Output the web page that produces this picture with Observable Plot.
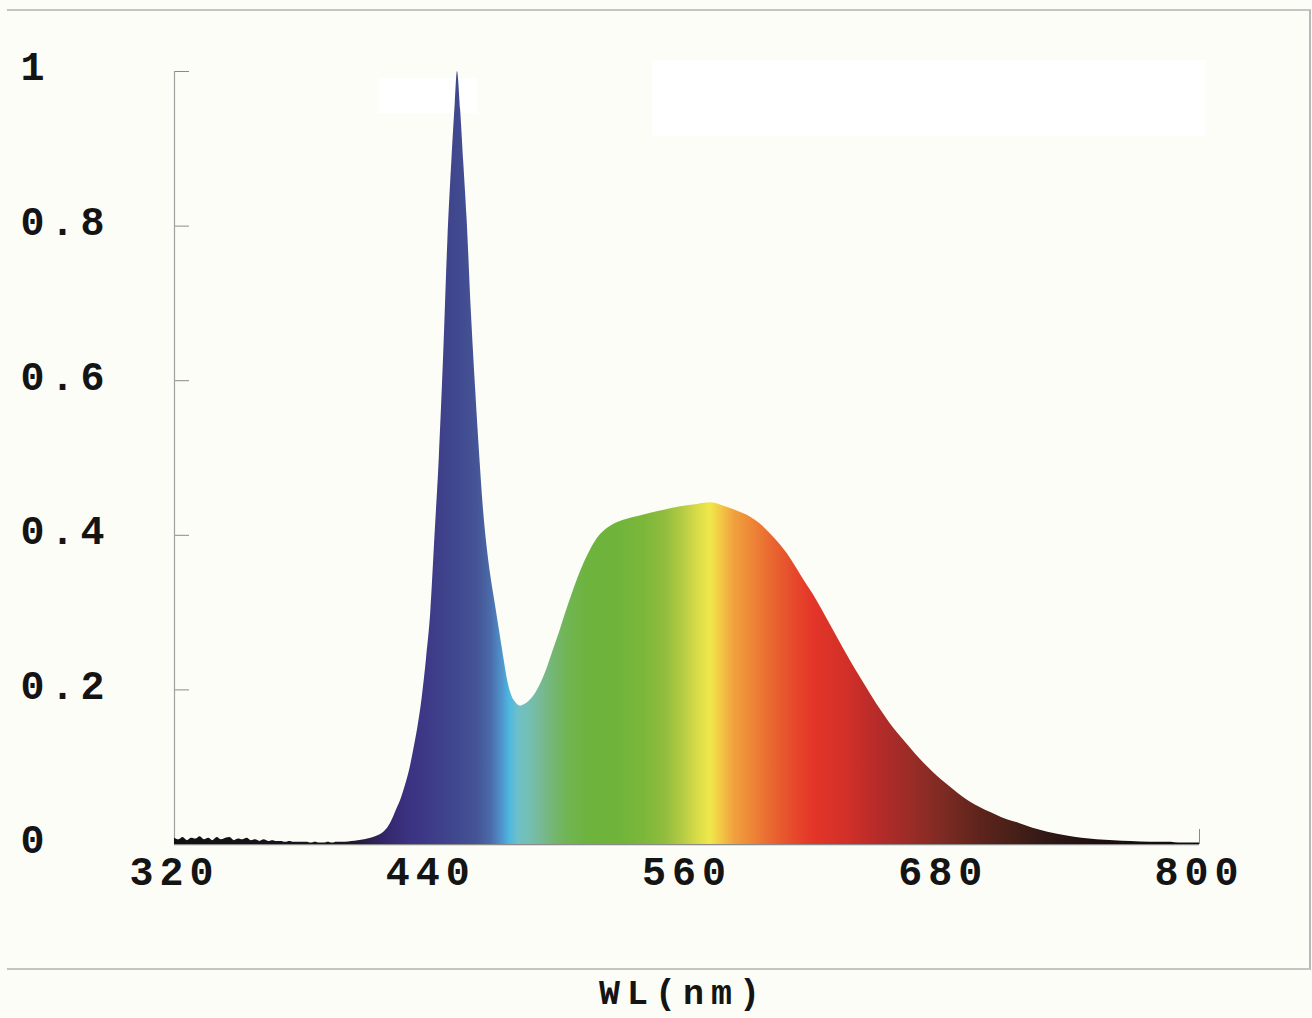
<!DOCTYPE html>
<html>
<head>
<meta charset="utf-8">
<script src="https://cdn.jsdelivr.net/npm/d3@7"></script>
<script src="https://cdn.jsdelivr.net/npm/@observablehq/plot@0.6"></script>
<style>
  html, body { margin: 0; padding: 0; background: #fdfdf7; }
  #wrap { position: relative; width: 1312px; height: 1018px; overflow: hidden; }
  #frame { position: absolute; left: 7px; top: 9px; width: 1302px; height: 957px;
           border-top: 2px solid #c4c4c4; border-right: 2px solid #b8b8b8; border-bottom: 2px solid #c4c4c4; }
  .blank { position: absolute; background: #ffffff; }
  #chart { position: absolute; left: 0; top: 0; }
  #chart svg { background: transparent !important; }
  #chart svg text { font-family: "Liberation Mono", "DejaVu Sans Mono", monospace; font-weight: bold; }
</style>
</head>
<body>
<div id="wrap">
  <div id="frame"></div>
  <div class="blank" style="left:378px;top:78px;width:99px;height:35px"></div>
  <div class="blank" style="left:652px;top:60px;width:554px;height:76px"></div>
  <div id="chart"></div>
</div>
<script>
// ---- data ----
const wavelengths = [
  320,322,324,326,328,330,332,334,336,338,340,342,344,346,348,350,352,354,356,358,
  360,362,364,366,368,370,372,374,376,378,380,382,384,386,388,390,392,394,396,398,400,
  403,406,409,412,415,418,420,422,424,426,428,430,432,434,436,438,440,442,444,446,448,450,451.5,452.5,
  454,455.5,457,459,461,463,464.5,466,468,470,472,474,476,478,480,482,484,
  486,488,491,494,497,500,503,506,509,512,515,518,521,525,530,538,547,557,565,571,576,582,590,595,599,
  603,607,611,615,619,623,627,631,635,639,643,647,651,655,659,663,667,671,675,679,683,687,691,695,
  700,705,710,716,722,729,738,745,752,760,768,777,785,792,800
];
const intensities = [
  .008,.006,.009,.005,.008,.007,.010,.006,.008,.005,.009,.006,.008,.009,.005,.007,.006,.008,.005,.006,
  .004,.006,.004,.005,.004,.004,.003,.004,.003,.003,.003,.003,.002,.003,.002,.002,.003,.002,.003,.003,.003,
  .004,.005,.006,.008,.011,.016,.022,.032,.045,.058,.075,.095,.122,.152,.19,.24,.30,.40,.50,.63,.78,.89,.96,1.0,
  .95,.88,.81,.69,.59,.50,.44,.395,.35,.315,.28,.245,.212,.192,.183,.179,.181,
  .185,.191,.205,.224,.248,.272,.298,.322,.345,.365,.382,.396,.405,.413,.419,.425,.431,.437,.440,.442,.439,.433,.423,.413,.402,
  .39,.376,.359,.341,.324,.305,.285,.265,.245,.226,.208,.19,.173,.157,.143,.13,.117,.105,.094,.084,.075,.066,.058,.051,
  .044,.038,.032,.027,.021,.016,.011,.008,.006,.005,.004,.003,.003,.002,.002
];
const stopWavelengths = [320,400,410,420,430,440,452,462,468,473,477,481,486,492,498,505,515,528,540,550,558,565,571,576,582,590,600,610,619,635,650,666,682,697,713,729,752,800];
const stopColors = ["#111111","#1c1420","#2a1e48","#35286e","#3b3282","#3e3b88","#40488e","#455596","#4a6aa8","#5090c8","#4db8e0","#6ebfc8","#74bfb4","#78b994","#74b670","#70b550","#6db33c","#70b43a","#7cb73a","#92bd3e","#b4cb44","#d8dc48","#f0e84a","#f3c845","#f0a23e","#ee8838","#e96630","#e64a2c","#e43529","#d23028","#b52b2a","#982c26","#7a2a22","#5e241c","#482018","#301816","#1e1010","#120a0a"];
const xTicks = [320, 440, 560, 680, 800];
const yTicks = [0, 0.2, 0.4, 0.6, 0.8, 1];
const yTickLabels = ["0", "0.2", "0.4", "0.6", "0.8", "1"];
const xLabel = "WL(nm)";

const spectrum = wavelengths.map((wl, i) => ({wl, v: intensities[i]}));

// ---- layout ----
const W = 1312, H = 1018;
const mL = 174, mR = 113, mT = 71, mB = 174;
const plotW = W - mL - mR, plotH = H - mT - mB;

function gradientMark(index, scales, values, dims) {
  const ns = "http://www.w3.org/2000/svg";
  const defs = document.createElementNS(ns, "defs");
  const lg = document.createElementNS(ns, "linearGradient");
  lg.setAttribute("id", "spec");
  lg.setAttribute("gradientUnits", "userSpaceOnUse");
  const x0 = scales.x(stopWavelengths[0]), x1 = scales.x(stopWavelengths[stopWavelengths.length - 1]);
  lg.setAttribute("x1", x0); lg.setAttribute("x2", x1);
  lg.setAttribute("y1", 0); lg.setAttribute("y2", 0);
  stopWavelengths.forEach((wl, i) => {
    const s = document.createElementNS(ns, "stop");
    s.setAttribute("offset", (scales.x(wl) - x0) / (x1 - x0));
    s.setAttribute("stop-color", stopColors[i]);
    lg.appendChild(s);
  });
  defs.appendChild(lg);
  return defs;
}

const chart = Plot.plot({
  width: W, height: H,
  marginLeft: mL, marginRight: mR, marginTop: mT, marginBottom: mB,
  style: {background: "transparent", color: "#141414"},
  x: {domain: [320, 800]},
  y: {domain: [0, 1]},
  marks: [
    gradientMark,
    Plot.axisY({ticks: yTicks, tickSize: 0, tickPadding: mL - 20, textAnchor: "start",
      tickFormat: d => yTickLabels[yTicks.indexOf(d)], fontSize: 40, dy: -4, label: null}),
    Plot.axisX({ticks: xTicks, tickSize: 0, tickPadding: 12, tickFormat: d => String(d),
      fontSize: 40, label: null}),
    Plot.tickY(yTicks, {y: d => d, insetRight: plotW - 15, stroke: "#8a8a8a", strokeWidth: 1}),
    Plot.tickX(xTicks, {x: d => d, insetTop: plotH - 15, stroke: "#8a8a8a", strokeWidth: 1}),
    Plot.ruleX([320], {y1: 0, y2: 1, stroke: "#a0a0a0", strokeWidth: 1.2}),
    Plot.ruleY([0], {x1: 320, x2: 800, stroke: "#8a8a8a", strokeWidth: 1.5}),
    Plot.areaY(spectrum, {x: "wl", y: "v", fill: "url(#spec)", curve: "monotone-x"}),
    Plot.text([xLabel], {text: d => d, frameAnchor: "bottom", lineAnchor: "middle", dy: 148, dx: -4,
      fontSize: 35, fill: "#141414"})
  ]
});
chart.querySelectorAll("text").forEach(t => {
  const fs = parseFloat(t.closest("[font-size]")?.getAttribute("font-size") || "40");
  t.style.letterSpacing = (fs >= 38 ? 6 : 7) + "px";
});
document.getElementById("chart").appendChild(chart);
</script>
</body>
</html>
